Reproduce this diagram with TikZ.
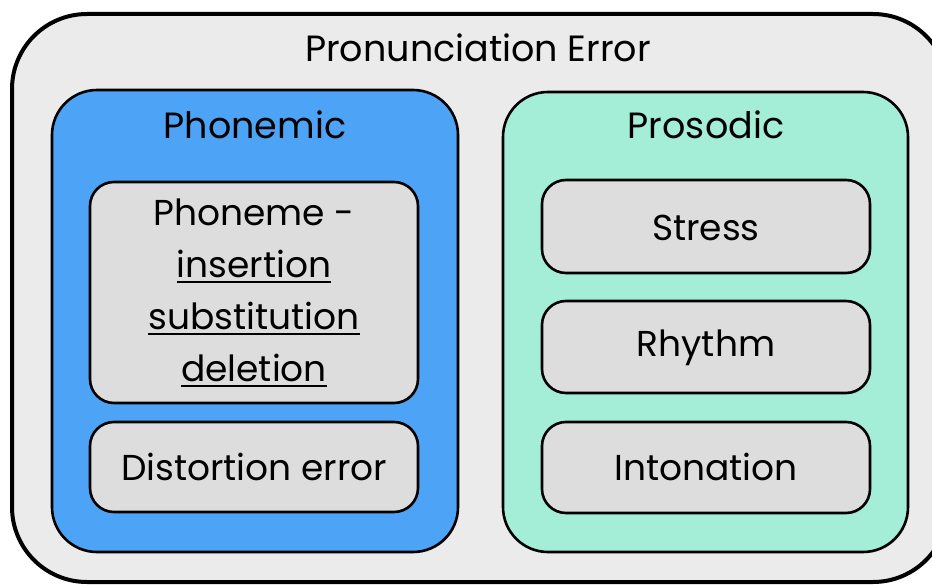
\documentclass[tikz,border=0pt]{standalone}
\usepackage{fontspec}
\setmainfont{Poppins}
\usetikzlibrary{shadows}
\definecolor{outerfill}{HTML}{EBEBEB}
\definecolor{phonfill}{HTML}{4DA4F6}
\definecolor{prosfill}{HTML}{A4EED8}
\definecolor{itemfill}{HTML}{DDDDDD}
% underline set a little below the baseline, slightly heavier than the default
\newcommand{\lowline}[1]{\leavevmode\setbox0=\hbox{#1}%
  \rlap{\rule[-5pt]{\wd0}{1.8pt}}\box0}
\begin{document}
\begin{tikzpicture}[x=1pt,y=-1pt,
  panel/.style={draw=black, line width=2.6pt,
    drop shadow={shadow xshift=1.2pt, shadow yshift=-1.2pt, opacity=0.35}},
  group/.style={panel, rounded corners=45pt},
  item/.style={panel, fill=itemfill, rounded corners=24pt},
  label/.style={font=\fontsize{36.5}{40}\selectfont, inner sep=0pt},
  ilabel/.style={font=\fontsize{36}{52}\selectfont, inner sep=0pt, align=center},
]
\useasboundingbox (0,0) rectangle (932,585);
\fill[white] (0,0) rectangle (932,585);

% outer frame
\draw[line width=4pt, fill=outerfill, rounded corners=75pt,
  drop shadow={shadow xshift=1.5pt, shadow yshift=-1.5pt, opacity=0.35}]
  (12,14) rectangle (948,582);
\node[label] (title) at (478,48) {Pronunciation Error};

% phonemic group
\path[group, fill=phonfill] (52,90) rectangle (458,552);
\node[label] (phon) at (255,125) {Phonemic};
\path[item] (90,182) rectangle (418,403);
\node[ilabel] (phoneme) at (254,293)
  {Phoneme -\\\lowline{insertion}\\\lowline{substitution}\\\lowline{deletion}};
\path[item] (90,422) rectangle (418,512);
\node[ilabel] (distortion) at (254,467) {Distortion error};

% prosodic group
\path[group, fill=prosfill] (503,92) rectangle (908,552);
\node[label] (pros) at (706,125) {Prosodic};
\path[item] (542,180) rectangle (870,273);
\node[ilabel] (stress) at (706,228) {Stress};
\path[item] (542,301) rectangle (870,393);
\node[ilabel] (rhythm) at (706,348) {Rhythm};
\path[item] (542,422) rectangle (870,513);
\node[ilabel] (intonation) at (706,467) {Intonation};
\end{tikzpicture}
\end{document}
